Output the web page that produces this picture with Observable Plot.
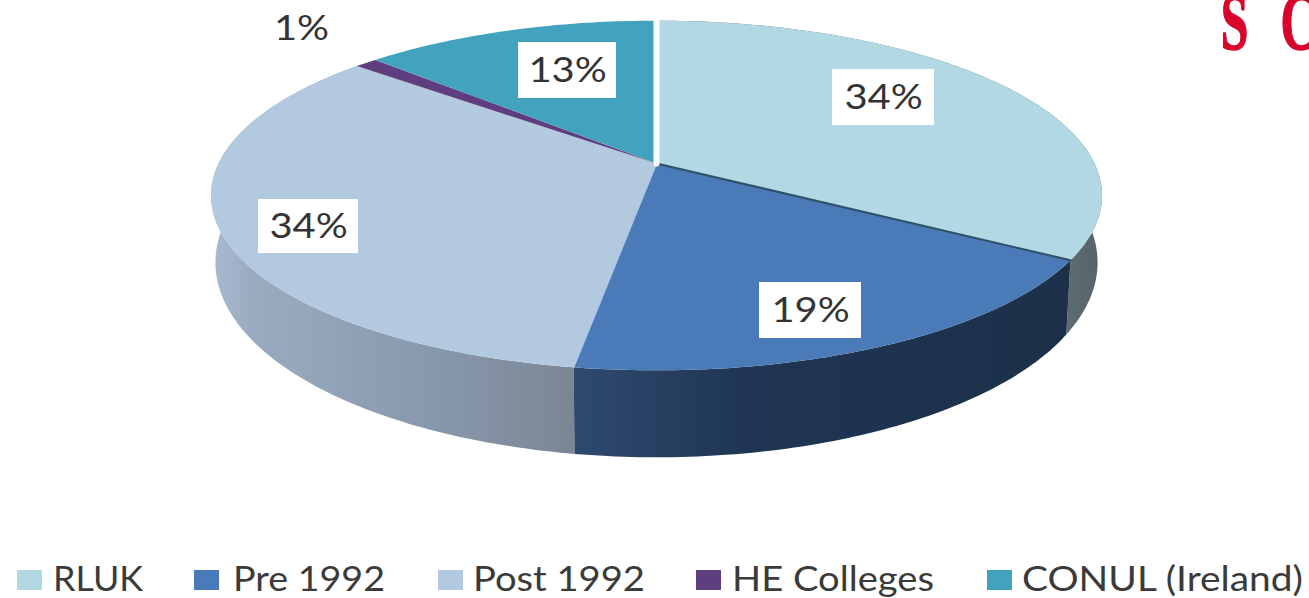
<!DOCTYPE html>
<html><head><meta charset="utf-8">
<script src="https://cdn.jsdelivr.net/npm/d3@7"></script>
<script src="https://cdn.jsdelivr.net/npm/@observablehq/plot@0.6"></script>
<style>
html,body{margin:0;padding:0;background:#fff;overflow:hidden}
#chart svg{display:block}
#legend{position:relative;height:48px;width:1309px;font-family:Lato,sans-serif;font-size:34px;color:#3a3a3a}
#legend i{position:absolute;top:20px;width:25px;height:20px}
#legend span{position:absolute;top:7px;line-height:42px;white-space:nowrap;transform-origin:0 50%}
</style></head><body>
<div id="chart"></div><div id="legend"></div>
<script>
const categories = ["RLUK","Pre 1992","Post 1992","HE Colleges","CONUL (Ireland)"];
const shares = [34,19,34,1,13];
const labels = ["34%","19%","34%","1%","13%"];
const topColors = ["#b1d8e3","#4a7ab8","#b3c9e0","#5f3e80","#41a3bd"];

// Layout of the tilted pie (pixels)
const W=1309,H=550,CX=656,CY=163,A=438,B=169,K=-0.183;
const SX=0.99,SY=1.114,EY=195,DEPTH=67;
const total=d3.sum(shares);
const cum=d3.cumsum(shares).map(v=>v/total);
const starts=[0,...cum.slice(0,-1)];
function topPoint(f){const t=f*2*Math.PI,u=Math.sin(t),v=-Math.cos(t),w=1+K*v;
  return {x:CX+A*u/w,y:CY+B*v/w};}
function basePoint(f){const p=topPoint(f);
  return {x:CX+SX*(p.x-CX),y:EY+SY*(p.y-EY)+DEPTH};}
function arc(a,b,fn){const n=Math.max(2,Math.ceil((b-a)*400));
  return d3.range(n+1).map(i=>fn(a+(b-a)*i/n));}
const wedge=i=>[{x:CX,y:CY},...arc(starts[i],cum[i],topPoint),{x:CX,y:CY}];
const wall=i=>[...arc(starts[i],cum[i],topPoint),...arc(starts[i],cum[i],basePoint).reverse()];
const poly=(pts,o)=>Plot.line(pts,{x:"x",y:"y",curve:"linear",...o});

// Label boxes: slice index, centre, half sizes
const boxes=[{i:0,x:883,y:97,hw:51,hh:28},{i:1,x:810,y:310,hw:51,hh:28},{i:2,x:308,y:226,hw:50,hh:27},{i:4,x:567,y:70,hw:49,hh:28}];
const plain=[{i:3,x:301,y:28}];

const defs=()=>{const s=d3.create("svg:defs");
  const g=(id,stops)=>{const l=s.append("linearGradient").attr("id",id);
    stops.forEach(([o,c])=>l.append("stop").attr("offset",o).attr("stop-color",c));};
  g("wall0",[[0.9,"#5f6e74"],[1,"#56646a"]]);
  g("wall1",[[0,"#2e4a70"],[0.35,"#1f3553"],[1,"#1c3049"]]);
  g("wall2",[[0,"#a8bad0"],[0.12,"#9aabc0"],[0.55,"#8a9bb0"],[1,"#7a8694"]]);
  return s.node();};

const plot=Plot.plot({width:W,height:H,margin:0,
  x:{domain:[0,W],range:[0,W],axis:null},
  y:{domain:[0,H],range:[0,H],axis:null},
  marks:[
    defs,
    poly(wall(0),{fill:"url(#wall0)",stroke:"none"}),
    poly(wall(2),{fill:"url(#wall2)",stroke:"none"}),
    poly(wall(1),{fill:"url(#wall1)",stroke:"none"}),
    ...categories.map((c,i)=>poly(wedge(i),{fill:topColors[i],stroke:"none"})),
    poly([topPoint(starts[1]),{x:CX,y:CY}],{stroke:"#2f5068",strokeWidth:2}),
    poly([topPoint(starts[2]),{x:CX,y:CY}],{stroke:"#a9c9ea",strokeWidth:1.5}),
    poly([topPoint(0),{x:CX,y:CY}],{stroke:"#fff",strokeWidth:6}),
    Plot.rect(boxes,{x1:d=>d.x-d.hw,x2:d=>d.x+d.hw,y1:d=>d.y-d.hh,y2:d=>d.y+d.hh,fill:"#fff"}),
    Plot.text([...boxes,...plain],{x:"x",y:"y",text:d=>labels[d.i],className:"pct",fontFamily:"Lato",fontSize:35,fill:"#333",textAnchor:"middle",lineAnchor:"middle"}),
    Plot.text([{t:"S",x:1234},{t:"C",x:1298}],{x:"x",y:()=>48,text:"t",className:"logo",fontFamily:"Liberation Serif",fontWeight:"bold",fontSize:80,fill:"#d9042b",lineAnchor:"bottom",stroke:"#d9042b",strokeWidth:1.5})
  ]});
const rescale=(sel,sx)=>d3.select(plot).selectAll(sel).attr("transform",function(){return (this.getAttribute("transform")||"")+` scale(${sx},1)`;});
rescale(".logo text",0.62);
rescale(".pct text",1.14);
document.getElementById("chart").append(plot);

// Legend
const swatchX=[17,194,438,696,987],textX=[53,233,473,732,1022],textW=[90,152,172,202,281];
const lg=d3.select("#legend");
categories.forEach((c,i)=>{
  lg.append("i").style("left",swatchX[i]+"px").style("background",topColors[i]);
  const s=lg.append("span").style("left",textX[i]+"px").text(c);
  s.style("transform",`scaleX(${textW[i]/s.node().getBoundingClientRect().width})`);
});
</script></body></html>
